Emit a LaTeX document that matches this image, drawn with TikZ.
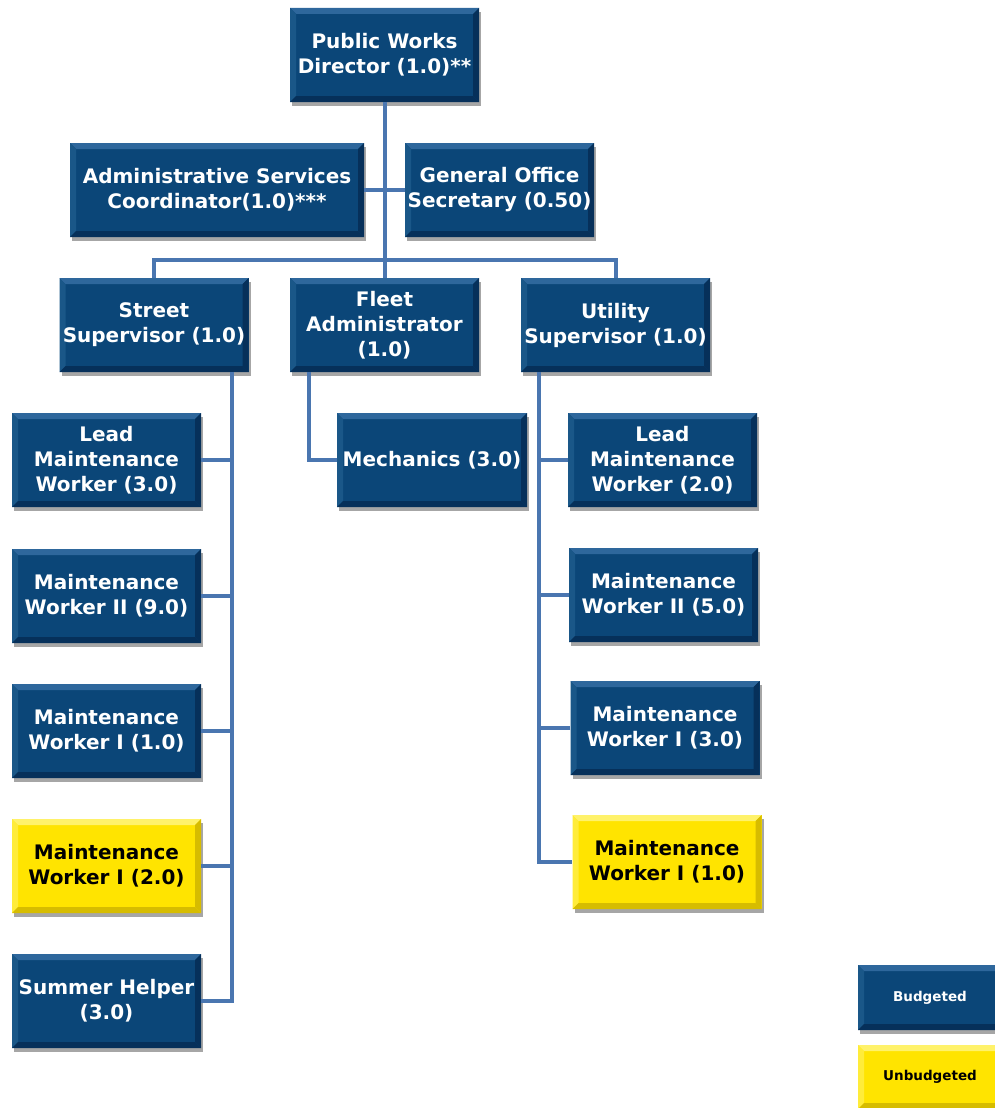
\documentclass[tikz,border=0pt]{standalone}
\usepackage{fontspec}
\setmainfont{DejaVu Sans}
\usetikzlibrary{shadows}
\definecolor{boxblue}{HTML}{0B4678}
\definecolor{bluelight}{HTML}{2E679C}
\definecolor{bluemid}{HTML}{1A5788}
\definecolor{bluedark}{HTML}{06305A}
\definecolor{boxyel}{HTML}{FFE400}
\definecolor{yellight}{HTML}{FFF26A}
\definecolor{yelmid}{HTML}{FFEC3A}
\definecolor{yeldark}{HTML}{D6BC00}
\definecolor{linkblue}{HTML}{4A76B0}
\newcommand\mybevel[4]{%
  \path (path picture bounding box.north west) coordinate (pNW)
        (path picture bounding box.south east) coordinate (pSE);
  \fill[#1] (pNW) -- (pNW -| pSE) -- ([shift={(-6pt,-6pt)}]pNW -| pSE) -- ([shift={(6pt,-6pt)}]pNW) -- cycle;
  \fill[#2] (pNW) -- ([shift={(6pt,-6pt)}]pNW) -- ([shift={(6pt,6pt)}]pNW |- pSE) -- (pNW |- pSE) -- cycle;
  \fill[#3] (pNW -| pSE) -- (pSE) -- ([shift={(-6pt,6pt)}]pSE) -- ([shift={(-6pt,-6pt)}]pNW -| pSE) -- cycle;
  \fill[#4] (pNW |- pSE) -- (pSE) -- ([shift={(-6pt,6pt)}]pSE) -- ([shift={(6pt,6pt)}]pNW |- pSE) -- cycle;
}
\tikzset{
  orgbox/.style={minimum width=189pt, minimum height=94pt, inner sep=0pt, align=center,
    font=\bfseries\fontsize{20}{25}\selectfont, text=white, fill=boxblue,
    drop shadow={shadow xshift=2pt, shadow yshift=-4pt, opacity=0.35, fill=black},
    path picture={\mybevel{bluelight}{bluemid}{bluedark}{bluedark}}},
  yelbox/.style={orgbox, fill=boxyel, text=black,
    path picture={\mybevel{yellight}{yelmid}{yeldark}{yeldark}}},
  legendtext/.style={font=\bfseries\fontsize{13.5}{16}\selectfont},
  link/.style={draw=linkblue, line width=4pt},
}
\begin{document}
\begin{tikzpicture}[x=1pt, y=-1pt]
\useasboundingbox (0,0) rectangle (994,1108);
% nodes
\node[orgbox] (dir) at (384.5,55) {Public Works\\Director (1.0)**};
\node[orgbox, minimum width=294pt] (admin) at (217,190) {Administrative Services\\Coordinator(1.0)***};
\node[orgbox] (gen) at (499.5,190) {General Office\\Secretary (0.50)};
\node[orgbox] (street) at (154,325) {Street\\Supervisor (1.0)};
\node[orgbox] (fleet) at (384.5,325) {Fleet\\Administrator\\(1.0)};
\node[orgbox] (util) at (615.5,325) {Utility\\Supervisor (1.0)};
\node[orgbox] (lead1) at (106.5,460) {Lead\\Maintenance\\Worker (3.0)};
\node[orgbox, minimum width=190pt] (mech) at (432,460) {Mechanics (3.0)};
\node[orgbox] (lead2) at (662.5,460) {Lead\\Maintenance\\Worker (2.0)};
\node[orgbox] (mw2a) at (106.5,596) {Maintenance\\Worker II (9.0)};
\node[orgbox] (mw2b) at (663.5,595) {Maintenance\\Worker II (5.0)};
\node[orgbox] (mw1a) at (106.5,731) {Maintenance\\Worker I (1.0)};
\node[orgbox] (mw1b) at (665,728) {Maintenance\\Worker I (3.0)};
\node[yelbox] (ya) at (106.5,866) {Maintenance\\Worker I (2.0)};
\node[yelbox] (yb) at (667,862) {Maintenance\\Worker I (1.0)};
\node[orgbox] (summer) at (106.5,1001) {Summer Helper\\(3.0)};
\node[orgbox, minimum width=144pt, minimum height=65pt, legendtext] (bud) at (930,997.5) {Budgeted};
\node[yelbox, minimum width=144pt, minimum height=64pt, legendtext] (unb) at (930,1077) {Unbudgeted};
% junction coordinates
\coordinate (bar) at (384.5,260);
\coordinate (sv) at (232,372);
\coordinate (fv) at (309,372);
\coordinate (uv) at (539,372);
% connectors
\draw[link] (dir.south) -- (fleet.north);
\draw[link] (admin.east) -- (gen.west);
\draw[link] (street.north) |- (bar) -| (util.north);
\draw[link] (sv) |- (summer.east);
\draw[link] (lead1.east) -- (lead1.east -| sv);
\draw[link] (mw2a.east) -- (mw2a.east -| sv);
\draw[link] (mw1a.east) -- (mw1a.east -| sv);
\draw[link] (ya.east) -- (ya.east -| sv);
\draw[link] (fv) |- (mech.west);
\draw[link] (uv) |- (yb.west);
\draw[link] (lead2.west) -- (lead2.west -| uv);
\draw[link] (mw2b.west) -- (mw2b.west -| uv);
\draw[link] (mw1b.west) -- (mw1b.west -| uv);
\end{tikzpicture}
\end{document}
